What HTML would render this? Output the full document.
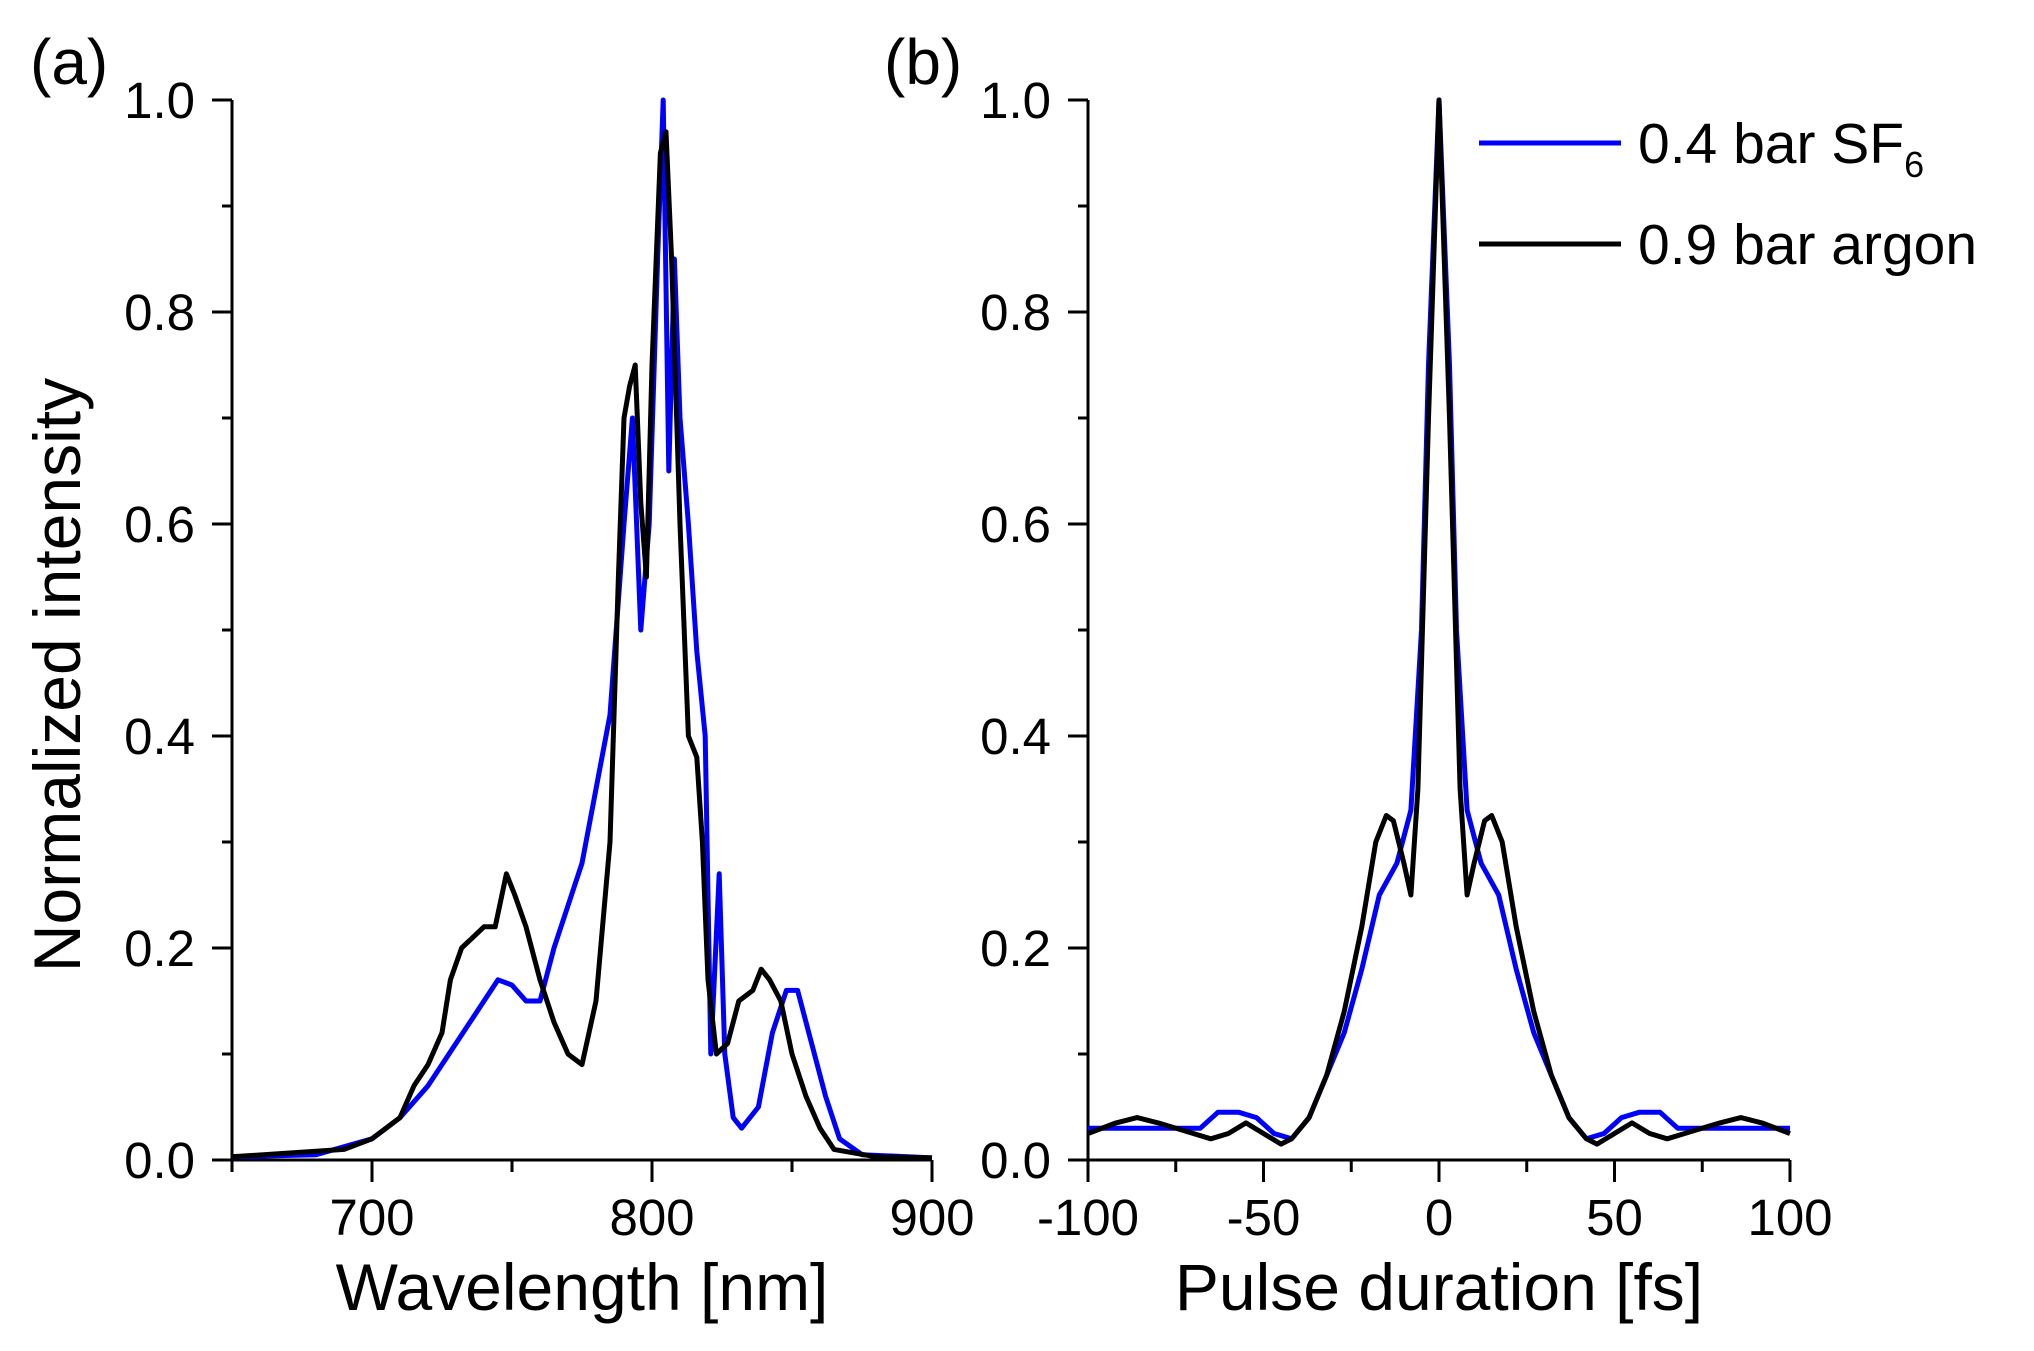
<!DOCTYPE html>
<html><head><meta charset="utf-8"><style>
html,body{margin:0;padding:0;background:#fff}
svg{display:block}
text{font-family:"Liberation Sans",Arial,sans-serif;fill:#000}
</style></head><body>
<svg id="fig" width="2034" height="1351" viewBox="0 0 2034 1351">
<g id="g"></g>
</svg>
<script>
// Panel (a) spectra
const wlBlue=[650,680,700,710,720,730,740,745,750,755,760,765,770,775,780,785,790,793,796,799,802,804,806,808,810,813,816,819,821,824,826,829,832,838,843,848,852,857,862,867,875,900];
const spBlue=[0.003,0.005,0.02,0.04,0.07,0.11,0.15,0.17,0.165,0.15,0.15,0.2,0.24,0.28,0.35,0.42,0.6,0.7,0.5,0.6,0.85,1.0,0.65,0.85,0.7,0.6,0.48,0.4,0.1,0.27,0.1,0.04,0.03,0.05,0.12,0.16,0.16,0.11,0.06,0.02,0.005,0.002];
const wlBlack=[650,690,700,710,715,720,725,728,732,736,740,744,748,751,755,760,765,770,775,780,785,788,790,792,794,796,798,800,803,805,807,810,813,816,818,820,823,827,831,836,839,842,846,850,855,860,865,880,900];
const spBlack=[0.003,0.01,0.02,0.04,0.07,0.09,0.12,0.17,0.2,0.21,0.22,0.22,0.27,0.25,0.22,0.17,0.13,0.1,0.09,0.15,0.3,0.55,0.7,0.73,0.75,0.62,0.55,0.75,0.95,0.97,0.85,0.6,0.4,0.38,0.3,0.17,0.1,0.11,0.15,0.16,0.18,0.17,0.15,0.1,0.06,0.03,0.01,0.003,0.002];
// Panel (b) autocorrelation (half, symmetric)
const tBlue=[0,3,5,8,12,17,22,27,32,37,42,47,52,57,63,68,75,90,100];
const acBlue=[1,0.75,0.5,0.33,0.28,0.25,0.18,0.12,0.08,0.04,0.02,0.025,0.04,0.045,0.045,0.03,0.03,0.03,0.03];
const tBlack=[0,3,6,8,10,13,15,18,22,27,32,37,42,45,50,55,60,65,70,80,86,92,100];
const acBlack=[1,0.7,0.35,0.25,0.28,0.32,0.325,0.3,0.22,0.14,0.08,0.04,0.02,0.015,0.025,0.035,0.025,0.02,0.025,0.035,0.04,0.035,0.025];
const yTicks=["0.0","0.2","0.4","0.6","0.8","1.0"];
const xTicksA=["700","800","900"];
const xTicksB=["-100","-50","0","50","100"];

const NS="http://www.w3.org/2000/svg";
const G=document.getElementById('g');
function mk(tag,attrs,txt){const e=document.createElementNS(NS,tag);for(const k in attrs)e.setAttribute(k,attrs[k]);if(txt!==undefined)e.textContent=txt;G.appendChild(e);return e;}
const Y0=1160,Y1=100;
const yS=v=>Y0+(Y1-Y0)*v;
const xA=v=>232+(v-650)*700/250;
const xB=v=>1088+(v+100)*702/200;

function axes(xf,x0v,x1v,majors,minors,left,right,name){
  let e=mk('line',{x1:left,y1:Y0,x2:left,y2:Y1,stroke:'#000','stroke-width':3});
  
  e=mk('line',{x1:left-20,y1:Y0,x2:right,y2:Y0,stroke:'#000','stroke-width':3});
  
  for(let i=0;i<=10;i++){const y=yS(i/10);const L=i%2?10:20;mk('line',{x1:left-L,y1:y,x2:left,y2:y,stroke:'#000','stroke-width':3});}
  yTicks.forEach(t=>{const el=mk('text',{x:left-37,y:yS(+t)+18,'font-size':51,'text-anchor':'end'},t);
    });
  minors.forEach(v=>mk('line',{x1:xf(v),y1:Y0,x2:xf(v),y2:Y0+12,stroke:'#000','stroke-width':3}));
  majors.forEach(t=>{const x=xf(+t);mk('line',{x1:x,y1:Y0,x2:x,y2:Y0+22,stroke:'#000','stroke-width':3});
    const el=mk('text',{x:x,y:1235,'font-size':51,'text-anchor':'middle'},t);
    });
}
axes(xA,650,900,xTicksA,[650,750,850],232,932,'panel-a');
axes(xB,-100,100,xTicksB,[-75,-25,25,75],1088,1790,'panel-b');

function line(xs,ys,xf,col,name){const d=xs.map((x,i)=>(i?'L':'M')+xf(x).toFixed(1)+','+yS(ys[i]).toFixed(1)).join('');
  const p=mk('path',{d:d,fill:'none',stroke:col,'stroke-width':5,'stroke-linejoin':'round'});
  }
function sym(t,v){const xs=[],ys=[];for(let i=t.length-1;i>0;i--){xs.push(-t[i]);ys.push(v[i]);}for(let i=0;i<t.length;i++){xs.push(t[i]);ys.push(v[i]);}return [xs,ys];}
line(wlBlue,spBlue,xA,'#0000ff','spectrum-sf6');
line(wlBlack,spBlack,xA,'#000','spectrum-argon');
let s=sym(tBlue,acBlue);line(s[0],s[1],xB,'#0000ff','pulse-sf6');
s=sym(tBlack,acBlack);line(s[0],s[1],xB,'#000','pulse-argon');

let e;
e=mk('text',{x:582,y:1310,'font-size':66,'text-anchor':'middle'},'Wavelength [nm]');
e=mk('text',{x:1439,y:1310,'font-size':66,'text-anchor':'middle'},'Pulse duration [fs]');
e=mk('text',{x:0,y:0,'font-size':66,'text-anchor':'middle',transform:'translate(80,675) rotate(-90)'},'Normalized intensity');
e=mk('text',{x:30,y:84,'font-size':64},'(a)');
e=mk('text',{x:884,y:84,'font-size':64},'(b)');
e=mk('line',{x1:1479,y1:143,x2:1621,y2:143,stroke:'#0000ff','stroke-width':5});
e=mk('line',{x1:1479,y1:244,x2:1621,y2:244,stroke:'#000','stroke-width':5});
e=mk('text',{x:1638,y:163,'font-size':57},'');
e.innerHTML='0.4 bar SF<tspan font-size="36" dy="14">6</tspan>';
e=mk('text',{x:1638,y:264,'font-size':57},'0.9 bar argon');
</script>
</body></html>
